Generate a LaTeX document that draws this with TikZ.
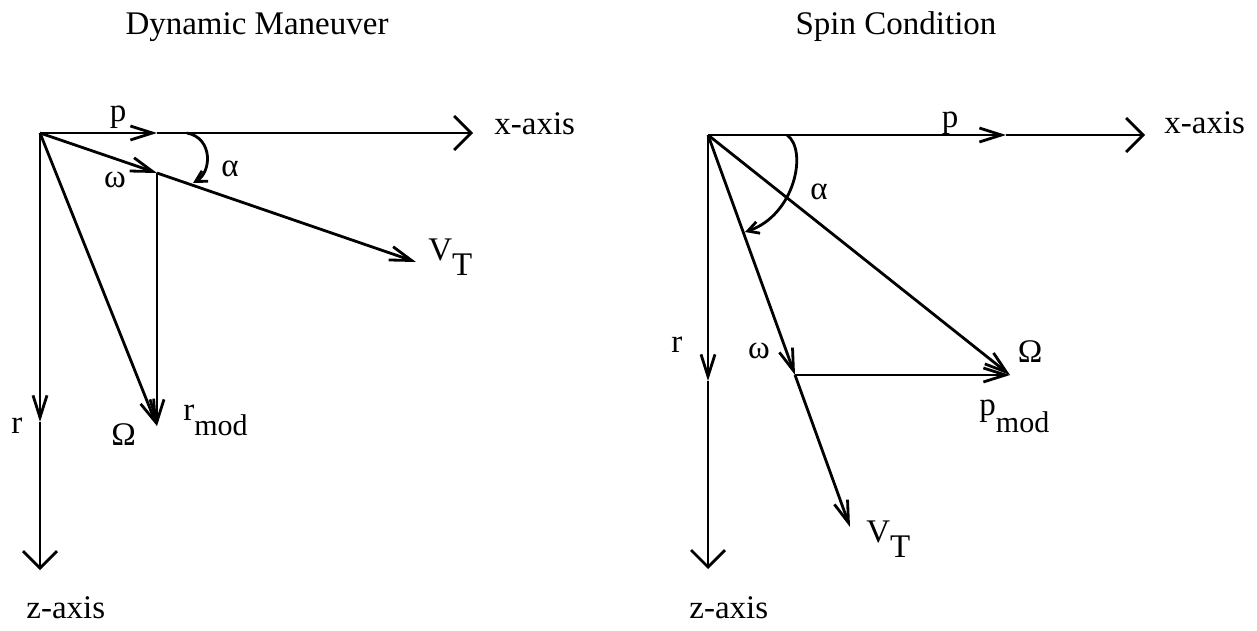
\documentclass[tikz,border=0pt]{standalone}
\usepackage{fontspec}
\setmainfont{Liberation Serif}
\usetikzlibrary{arrows.meta}
\begin{document}
\begin{tikzpicture}[x=1pt,y=-1pt,
  line width=2.8pt,
  bigtip/.style={-{Straight Barb[length=17pt,width=34pt]}},
  smalltip/.style={-{Straight Barb[length=22pt,width=14pt]}},
  arctip/.style={-{Straight Barb[length=11pt,width=12pt]}},
  lbl/.style={inner sep=0pt,font=\fontsize{33}{40}\selectfont}]
\useasboundingbox (0,0) rectangle (1257,631);
% ---------- left: Dynamic Maneuver ----------
\coordinate (O1) at (40,133);
\coordinate (P1) at (157,133);
\coordinate (X1) at (473,133);
\coordinate (W1) at (157,173);
\coordinate (VT1) at (416,262);
\coordinate (M1) at (157,426);
\coordinate (R1) at (40,422);
\coordinate (Z1) at (40,570);
\coordinate (A1s) at (187,133);
\coordinate (A1e) at (193,183);
\draw[smalltip] (O1) -- (P1);
\draw[bigtip] (P1) -- (X1);
\draw[smalltip] (O1) -- (W1);
\draw[smalltip] (W1) -- (VT1);
\draw[smalltip] (W1) -- (M1);
\draw[smalltip] (O1) -- (M1);
\draw[smalltip] (O1) -- (R1);
\draw[bigtip] (R1) -- (Z1);
\draw[arctip] (A1s) .. controls (213,138) and (212,172) .. (A1e);
\node[lbl,anchor=base] (t1) at (257,35) {Dynamic Maneuver};
\node[lbl,anchor=base west] (xl1) at (493,135) {x-axis};
\node[lbl,anchor=base] (pl1) at (118,122) {p};
\node[lbl,anchor=base] (wl1) at (115,187) {ω};
\node[lbl,anchor=base] (al1) at (230,177) {α};
\node[lbl,anchor=base west] (vl1) at (427,260) {V\raisebox{-15pt}{T}};
\node[lbl,anchor=base west] (rl1) at (10,433) {r};
\node[lbl,anchor=base west] (ol1) at (110,445) {Ω};
\node[lbl,anchor=base west] (rm1) at (182,420) {r\raisebox{-15pt}{\fontsize{30}{36}\selectfont mod}};
\node[lbl,anchor=base west] (zl1) at (25,618) {z-axis};
% ---------- right: Spin Condition ----------
\coordinate (O2) at (708,135);
\coordinate (P2) at (1006,135);
\coordinate (X2) at (1145,135);
\coordinate (W2) at (795,375);
\coordinate (VT2) at (850,527);
\coordinate (OM2) at (1010,375);
\coordinate (R2) at (708,381);
\coordinate (Z2) at (708,569);
\coordinate (A2s) at (787,135);
\coordinate (A2e) at (745,232);
\draw[smalltip] (O2) -- (P2);
\draw[bigtip] (P2) -- (X2);
\draw[smalltip] (O2) -- (W2);
\draw[smalltip] (W2) -- (VT2);
\draw[smalltip] (O2) -- (OM2);
\draw[smalltip] (W2) -- (OM2);
\draw[smalltip] (O2) -- (R2);
\draw[bigtip] (R2) -- (Z2);
\draw[arctip] (A2s) .. controls (808,150) and (795,215) .. (A2e);
\node[lbl,anchor=base] (t2) at (896,35) {Spin Condition};
\node[lbl,anchor=base west] (xl2) at (1163,134) {x-axis};
\node[lbl,anchor=base] (pl2) at (950,128) {p};
\node[lbl,anchor=base] (al2) at (819,200) {α};
\node[lbl,anchor=base] (wl2) at (759,358) {ω};
\node[lbl,anchor=base] (ol2) at (1030,362) {Ω};
\node[lbl,anchor=base west] (pm2) at (978,415) {p\raisebox{-17pt}{\fontsize{30}{36}\selectfont mod}};
\node[lbl,anchor=base west] (rl2) at (670,352) {r};
\node[lbl,anchor=base west] (vl2) at (865,542) {V\raisebox{-15pt}{T}};
\node[lbl,anchor=base west] (zl2) at (688,618) {z-axis};
\end{tikzpicture}
\end{document}
